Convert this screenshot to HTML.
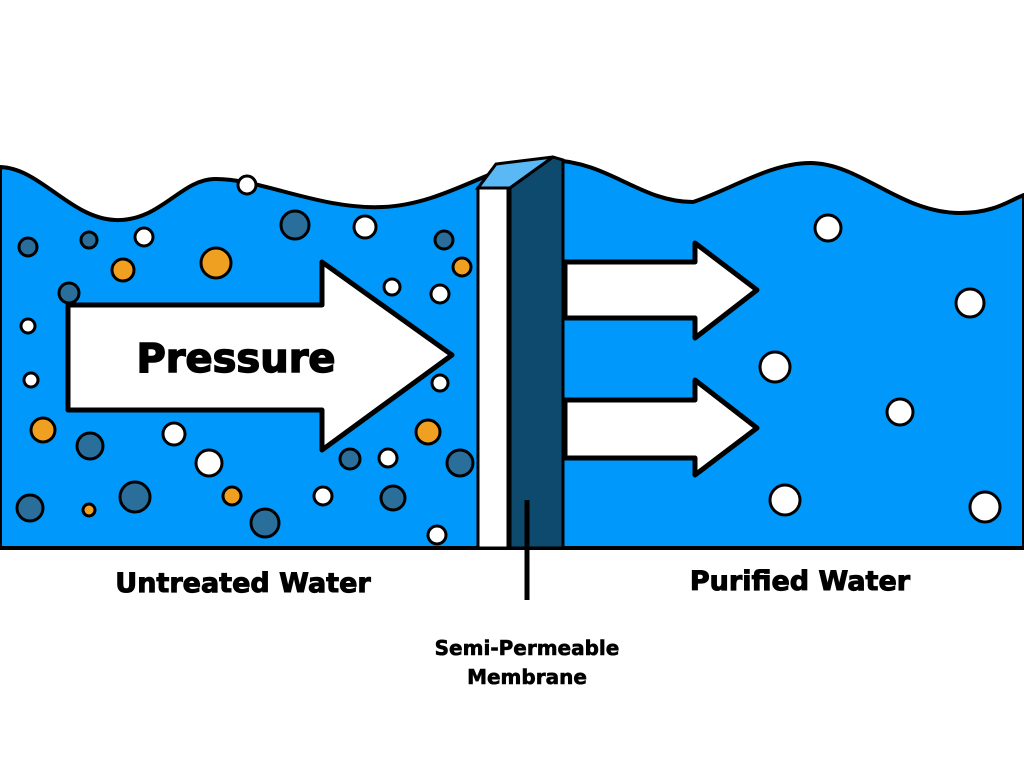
<!DOCTYPE html>
<html><head><meta charset="utf-8"><style>
html,body{margin:0;padding:0;background:#fff;width:1024px;height:768px;overflow:hidden}
svg{display:block}
text{font-family:"DejaVu Sans","Liberation Sans",sans-serif;font-weight:bold;fill:#000;stroke:#000}
</style></head><body>
<svg width="1024" height="768" viewBox="0 0 1024 768" xmlns="http://www.w3.org/2000/svg">
<path d="M0,167 C40,168 70,218 115,220 C160,222 180,180 214,179 C260,178 320,210 383,207 C450,204 500,158 551,160 C610,162 640,202 693,202 C730,190 770,163 810,163 C860,163 900,213 960,213 C995,213 1010,200 1024,195 L1024,548 L0,548 Z" fill="#0099fb" stroke="#000" stroke-width="4"/>
<line x1="0" y1="548" x2="1024" y2="548" stroke="#000" stroke-width="4"/>
<g stroke="#000" stroke-width="3">
<g fill="#fff">
<circle cx="247" cy="185" r="9"/><circle cx="144" cy="237" r="9"/><circle cx="365" cy="227" r="11"/><circle cx="392" cy="287" r="8"/><circle cx="440" cy="294" r="9"/><circle cx="28" cy="326" r="7"/><circle cx="31" cy="380" r="7"/><circle cx="440" cy="383" r="8"/><circle cx="174" cy="434" r="11"/><circle cx="209" cy="463" r="13"/><circle cx="388" cy="458" r="9"/><circle cx="323" cy="496" r="9"/><circle cx="437" cy="535" r="9"/>
<circle cx="828" cy="228" r="13"/><circle cx="970" cy="303" r="14"/><circle cx="775" cy="367" r="15"/><circle cx="900" cy="412" r="13"/><circle cx="785" cy="500" r="15"/><circle cx="985" cy="507" r="15"/>
</g>
<g fill="#2a6e9c">
<circle cx="295" cy="225" r="14"/><circle cx="89" cy="240" r="8"/><circle cx="28" cy="247" r="9"/><circle cx="444" cy="240" r="9"/><circle cx="69" cy="293" r="10"/><circle cx="90" cy="446" r="13"/><circle cx="135" cy="497" r="15"/><circle cx="30" cy="508" r="13"/><circle cx="265" cy="523" r="14"/><circle cx="350" cy="459" r="10"/><circle cx="393" cy="498" r="12"/><circle cx="460" cy="463" r="13"/>
</g>
<g fill="#f0a020">
<circle cx="216" cy="263" r="15"/><circle cx="123" cy="270" r="11"/><circle cx="462" cy="267" r="9"/><circle cx="43" cy="430" r="12"/><circle cx="428" cy="432" r="12"/><circle cx="232" cy="496" r="9"/><circle cx="89" cy="510" r="6"/>
</g>
</g>
<path d="M68,305 L322,305 L322,262 L452,355 L322,450 L322,410 L68,410 Z" fill="#fff" stroke="#000" stroke-width="5" stroke-linejoin="round"/>
<text x="236" y="372" font-size="40" text-anchor="middle" stroke-width="1.5">Pressure</text>
<path d="M565,262 L695,262 L695,243 L757,290 L695,338 L695,318 L565,318 Z" fill="#fff" stroke="#000" stroke-width="5" stroke-linejoin="round"/>
<path d="M565,400 L695,400 L695,380 L757,428 L695,475 L695,458 L565,458 Z" fill="#fff" stroke="#000" stroke-width="5" stroke-linejoin="round"/>
<path d="M478,188 L496,164 L553,157 L510,188 Z" fill="#5ab8f5" stroke="#000" stroke-width="3"/>
<path d="M510,188 L553,157 L563,160 L563,548 L510,548 Z" fill="#0d4a6e" stroke="#000" stroke-width="3"/>
<rect x="478" y="188" width="30" height="360" fill="#fff" stroke="#000" stroke-width="3"/>
<line x1="527" y1="500" x2="527" y2="600" stroke="#000" stroke-width="5"/>
<text x="243" y="592" font-size="27" text-anchor="middle" stroke-width="1">Untreated Water</text>
<text x="800" y="590" font-size="27" text-anchor="middle" stroke-width="1">Purified Water</text>
<text x="527" y="655" font-size="20" text-anchor="middle" stroke-width="0.6">Semi-Permeable</text>
<text x="527" y="684" font-size="20" text-anchor="middle" stroke-width="0.6">Membrane</text>
</svg>
</body></html>
